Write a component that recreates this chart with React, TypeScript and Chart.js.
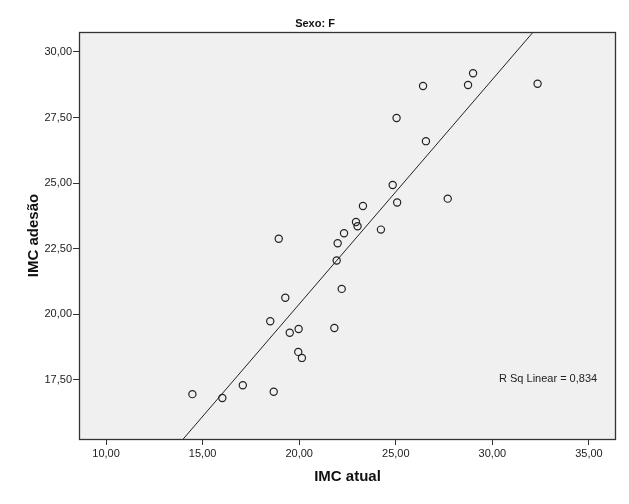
import React, { useEffect, useRef } from "react";
import Chart from "chart.js/auto";

const imcAtual = [
  14.47, 16.02, 17.08, 18.68, 18.5, 19.28, 19.51, 19.97, 19.95, 20.14, 21.82, 22.2,
  18.94, 21.94, 21.99, 22.32, 22.94, 23.02, 23.3, 24.23, 24.84, 25.07,
  26.41, 29.0, 28.74, 32.34, 25.04, 26.56, 27.69,
];
const imcAdesao = [
  16.96, 16.81, 17.3, 17.05, 19.74, 20.63, 19.3, 19.44, 18.57, 18.34, 19.48, 20.97,
  22.88, 22.05, 22.71, 23.09, 23.52, 23.36, 24.13, 23.23, 24.93, 24.26,
  28.7, 29.19, 28.74, 28.79, 27.48, 26.6, 24.41,
];
const xTicks = [10, 15, 20, 25, 30, 35];
const yTicks = [17.5, 20, 22.5, 25, 27.5, 30];
const fitSlope = 0.856;
const fitIntercept = 3.27;
const rSqText = "R Sq Linear = 0,834";
const chartTitle = "Sexo: F";
const xTitle = "IMC atual";
const yTitle = "IMC adesão";

const X_MIN = 8.6;
const X_MAX = 36.4;
const Y_MIN = 15.25;
const Y_MAX = 30.76;

const FONT = "'Liberation Sans', Arial, sans-serif";
const fmt = (v: number) => v.toFixed(2).replace(".", ",");

export default function App() {
  const ref = useRef<HTMLCanvasElement | null>(null);
  useEffect(() => {
    if (!ref.current) return;
    const decor = {
      id: "decor",
      beforeDraw(chart: any) {
        const { ctx, chartArea: a } = chart;
        ctx.save();
        ctx.fillStyle = "#f0f0f0";
        ctx.fillRect(a.left, a.top, a.right - a.left, a.bottom - a.top);
        ctx.restore();
      },
      afterDraw(chart: any) {
        const { ctx, chartArea: a } = chart;
        ctx.save();
        ctx.strokeStyle = "#333";
        ctx.lineWidth = 1.3;
        ctx.strokeRect(a.left + 0.5, a.top + 0.5, a.right - a.left - 1, a.bottom - a.top);
        ctx.fillStyle = "#111";
        ctx.textAlign = "center";
        ctx.textBaseline = "middle";
        ctx.font = `bold 11px ${FONT}`;
        ctx.fillText(chartTitle, 315, 24);
        ctx.font = `bold 15px ${FONT}`;
        ctx.fillText(xTitle, (a.left + a.right) / 2, 477);
        ctx.save();
        ctx.translate(34, (a.top + a.bottom) / 2);
        ctx.rotate(-Math.PI / 2);
        ctx.fillText(yTitle, 0, 0);
        ctx.restore();
        ctx.font = `11px ${FONT}`;
        ctx.textAlign = "left";
        ctx.fillStyle = "#222";
        ctx.fillText(rSqText, 499, 379);
        ctx.restore();
      },
    };
    const points = imcAtual.map((x, i) => ({ x, y: imcAdesao[i] }));
    const line = [X_MIN, X_MAX].map((x) => ({ x, y: fitIntercept + fitSlope * x }));
    const chart = new Chart(ref.current, {
      type: "scatter",
      data: {
        datasets: [
          {
            data: points,
            backgroundColor: "rgba(0,0,0,0)",
            borderColor: "#222",
            borderWidth: 1.2,
            pointRadius: 3.6,
            pointStyle: "circle",
          },
          {
            type: "line",
            data: line,
            borderColor: "#222",
            borderWidth: 1,
            pointRadius: 0,
            fill: false,
          } as any,
        ],
      },
      options: {
        animation: false,
        responsive: false,
        maintainAspectRatio: false,
        layout: { padding: { top: 32, right: 13, left: 0, bottom: 0 } },
        plugins: { legend: { display: false }, tooltip: { enabled: false } },
        scales: {
          x: {
            type: "linear",
            min: X_MIN,
            max: X_MAX,
            afterBuildTicks: (s: any) => {
              s.ticks = xTicks.map((v) => ({ value: v }));
            },
            afterFit: (s: any) => {
              s.height = 65;
            },
            ticks: {
              callback: (v: any) => fmt(Number(v)),
              font: { family: FONT, size: 11 },
              color: "#222",
              padding: 2,
              maxRotation: 0,
              autoSkip: false,
            },
            grid: { drawOnChartArea: false, drawTicks: true, tickLength: 6, color: "#333", lineWidth: 1 },
            border: { display: false },
          },
          y: {
            type: "linear",
            min: Y_MIN,
            max: Y_MAX,
            afterBuildTicks: (s: any) => {
              s.ticks = yTicks.map((v) => ({ value: v }));
            },
            afterFit: (s: any) => {
              s.width = 79;
            },
            ticks: {
              callback: (v: any) => fmt(Number(v)),
              font: { family: FONT, size: 11 },
              color: "#222",
              padding: 1,
              autoSkip: false,
            },
            grid: { drawOnChartArea: false, drawTicks: true, tickLength: 6, color: "#333", lineWidth: 1 },
            border: { display: false },
          },
        },
      },
      plugins: [decor],
    });
    return () => chart.destroy();
  }, []);
  return (
    <div style={{ position: "absolute", left: 0, top: 0, width: 629, height: 504, background: "#fff" }}>
      <canvas ref={ref} width={629} height={504} style={{ display: "block" }} />
    </div>
  );
}
